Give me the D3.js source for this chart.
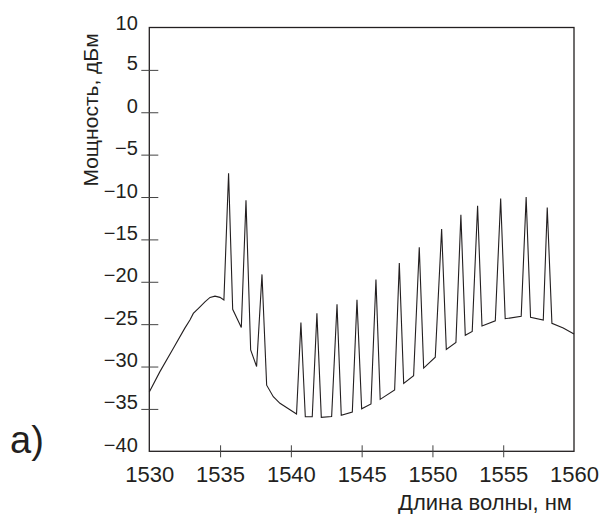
<!DOCTYPE html>
<html>
<head>
<meta charset="utf-8">
<script src="https://cdn.jsdelivr.net/npm/d3@7"></script>
<style>
  body { margin: 0; background: #fff; }
  text { font-family: "Liberation Sans", Arial, sans-serif; fill: #231f20; }
</style>
</head>
<body>
<svg id="chart" width="601" height="514"></svg>
<script>
// wavelength (nm) and power (dBm)
const wavelength = [1530, 1530.75, 1531.7, 1532.5, 1532.87, 1533.11, 1533.58, 1533.93, 1534.29, 1534.64,
  1534.99, 1535.27, 1535.6, 1535.89,
  1536.5, 1536.83, 1537.16, 1537.58, 1537.96, 1538.29, 1538.76, 1539.23, 1540.4, 1540.71,
  1541.02, 1541.51, 1541.84, 1542.15, 1542.88, 1543.26, 1543.56, 1544.34, 1544.67, 1545.0,
  1545.66, 1546.01, 1546.31, 1547.33, 1547.66, 1547.97, 1548.67, 1549.07, 1549.38, 1550.2,
  1550.65, 1550.98, 1551.66, 1552.01, 1552.32, 1552.81, 1553.19, 1553.5, 1554.44, 1554.82,
  1555.14, 1556.27, 1556.62, 1556.93, 1557.83, 1558.11, 1558.44, 1559.24, 1560];
const power = [-33.0, -30.6, -27.85, -25.5, -24.5, -23.73, -22.95, -22.36, -21.84, -21.69,
  -21.84, -22.15, -7.2, -23.25,
  -25.4, -10.37, -28.05, -30.0, -19.13, -32.2, -33.56, -34.34, -35.6, -24.8,
  -35.92, -35.92, -23.73, -36.0, -35.9, -22.66, -35.75, -35.36, -22.12, -34.98,
  -34.42, -19.72, -33.87, -32.77, -17.8, -31.98, -31.09, -15.94, -30.18, -28.9,
  -13.79, -27.97, -27.15, -12.1, -26.32, -25.85, -11.04, -25.22, -24.6, -10.17,
  -24.36, -24.08, -10.01, -24.2, -24.52, -11.23, -24.9, -25.46, -26.17];
const xTicks = [1530, 1535, 1540, 1545, 1550, 1555, 1560];
const yTicks = [-40, -35, -30, -25, -20, -15, -10, -5, 0, 5, 10];

const svg = d3.select('#chart');
const ink = '#231f20';

const x = d3.scaleLinear().domain([1530, 1560]).range([149.3, 574]);
const y = d3.scaleLinear().domain([-40, 10]).range([451.3, 27.5]);

// frame
svg.append('rect')
  .attr('x', x(1530)).attr('y', y(10))
  .attr('width', x(1560) - x(1530)).attr('height', y(-40) - y(10))
  .attr('fill', 'none').attr('stroke', ink).attr('stroke-width', 1.3);

// x axis
const gx = svg.append('g')
  .attr('transform', `translate(0,${y(-40)})`)
  .call(d3.axisBottom(x).tickValues(xTicks).tickFormat(d3.format('d')).tickSize(6));
gx.select('.domain').remove();
gx.selectAll('.tick line')
  .attr('y1', -6).attr('y2', 6)
  .attr('stroke', '#444')
  .style('display', d => (d === 1530 || d === 1560) ? 'none' : null);
gx.selectAll('.tick text')
  .attr('y', 30.4).attr('dy', 0)
  .style('font-size', '22px').attr('fill', ink);

// y axis
const gy = svg.append('g')
  .attr('transform', `translate(${x(1530)},0)`)
  .call(d3.axisLeft(y).tickValues(yTicks).tickSize(8));
gy.select('.domain').remove();
gy.selectAll('.tick line')
  .attr('x1', -8).attr('x2', 9)
  .attr('stroke', '#444')
  .style('display', d => (d === -40 || d === 10) ? 'none' : null);
gy.selectAll('.tick text')
  .attr('x', -11.5).attr('dy', 0)
  .style('font-size', '20px').attr('fill', ink);
gy.selectAll('.tick text').filter(d => d === 10).attr('dy', '0.1em');

// spectrum
const line = d3.line()
  .x((d, i) => x(wavelength[i]))
  .y(d => y(d));

svg.append('path')
  .datum(power)
  .attr('d', line)
  .attr('fill', 'none')
  .attr('stroke', ink)
  .attr('stroke-width', 1.1)
  .attr('stroke-linejoin', 'miter');

// titles
svg.append('text')
  .attr('transform', 'translate(97.5,110) rotate(-90)')
  .attr('text-anchor', 'middle')
  .style('font-size', '21px')
  .text('Мощность, дБм');

svg.append('text')
  .attr('x', 572).attr('y', 510)
  .attr('text-anchor', 'end')
  .style('font-size', '22px')
  .text('Длина волны, нм');

svg.append('text')
  .attr('x', 10).attr('y', 453)
  .style('font-size', '38px')
  .text('а)');
</script>
</body>
</html>
